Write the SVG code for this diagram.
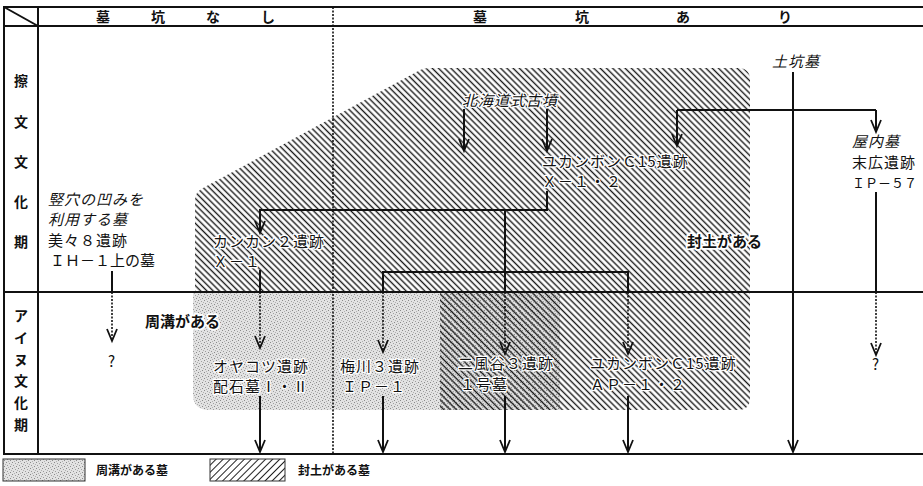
<svg xmlns="http://www.w3.org/2000/svg" width="923" height="486" viewBox="0 0 923 486">
<style>
.t{font-family:"Noto Sans CJK JP","Noto Sans",sans-serif;font-size:15px;letter-spacing:1px;fill:#111}
.h{font-family:"Noto Sans CJK JP","Noto Sans",sans-serif;font-size:14px;font-weight:bold;fill:#111}
.i{font-style:italic}
.halo{stroke:#fff;stroke-width:2.5px;paint-order:stroke;stroke-linejoin:round}
.bh{font-weight:bold;stroke:#fff;stroke-width:3.5px;paint-order:stroke;stroke-linejoin:round;letter-spacing:0}
.grid{stroke:#111;stroke-width:2;fill:none}
.dv{stroke:#111;stroke-width:1.6;stroke-dasharray:2 1.5;fill:none}
.c{stroke:#111;stroke-width:2;fill:none}
.d{stroke:#111;stroke-width:1.6;fill:none;stroke-dasharray:2 1.5}
.ah{stroke:#111;stroke-width:1.8;fill:none;stroke-dasharray:none}
</style>
<defs>
<pattern id="hatch" patternUnits="userSpaceOnUse" width="4.4" height="4.4" patternTransform="rotate(45)">
<line x1="0" y1="2.2" x2="4.4" y2="2.2" stroke="#1a1a1a" stroke-width="1.4"/>
</pattern>
<pattern id="hatch2" patternUnits="userSpaceOnUse" width="5" height="5" patternTransform="rotate(-45)">
<line x1="0" y1="2.5" x2="5" y2="2.5" stroke="#222" stroke-width="1"/>
</pattern>
<pattern id="stip" patternUnits="userSpaceOnUse" width="6" height="6">
<rect width="6" height="6" fill="#e2e2e2"/>
<rect x="0" y="0" width="1" height="1" fill="#8a8a8a"/>
<rect x="3" y="1" width="1" height="1" fill="#a0a0a0"/>
<rect x="1" y="3" width="1" height="1" fill="#9a9a9a"/>
<rect x="4" y="4" width="1" height="1" fill="#8a8a8a"/>
<rect x="5" y="2" width="1" height="1" fill="#b0b0b0"/>
<rect x="2" y="5" width="1" height="1" fill="#b0b0b0"/>
</pattern>
<marker id="arr" viewBox="-13 -7 15 14" refX="0" refY="0" markerWidth="15" markerHeight="14" markerUnits="userSpaceOnUse" orient="auto" overflow="visible">
<path class="ah" d="M-12,-5 L0,0 L-12,5"/>
</marker>
</defs>

<g id="regions">
<path id="stipple-region" d="M193,292 L560,292 L560,410 L209,410 Q193,410 193,394 Z" fill="url(#stip)"/>
<path id="hatch-region" d="M195,200 Q195,192 203,188 L420,70 Q424,68 430,68 L738,68 Q750,68 750,80 L750,398 Q750,410 738,410 L440,410 L440,292 L195,292 Z" fill="url(#hatch)"/>
</g>

<g id="table">
<line class="grid" x1="3" y1="7" x2="923" y2="7"/>
<line class="grid" x1="3" y1="26" x2="923" y2="26"/>
<line class="grid" x1="3" y1="292" x2="923" y2="292"/>
<line class="grid" x1="3" y1="454" x2="923" y2="454"/>
<line class="grid" x1="4" y1="7" x2="4" y2="454"/>
<line class="grid" x1="38" y1="7" x2="38" y2="454"/>
<line class="grid" x1="4" y1="7" x2="38" y2="26" stroke-width="1.5"/>
<line class="dv" x1="333" y1="7" x2="333" y2="454"/>
<g id="header">
<text class="h" x="103" y="22" text-anchor="middle">墓</text>
<text class="h" x="158" y="22" text-anchor="middle">坑</text>
<text class="h" x="213" y="22" text-anchor="middle">な</text>
<text class="h" x="268" y="22" text-anchor="middle">し</text>
<text class="h" x="480" y="22" text-anchor="middle">墓</text>
<text class="h" x="582" y="22" text-anchor="middle">坑</text>
<text class="h" x="683" y="22" text-anchor="middle">あ</text>
<text class="h" x="785" y="22" text-anchor="middle">り</text>
</g>
<g id="period-satsumon">
<text class="h" x="21" y="86" text-anchor="middle">擦</text>
<text class="h" x="21" y="127" text-anchor="middle">文</text>
<text class="h" x="21" y="167" text-anchor="middle">文</text>
<text class="h" x="21" y="207" text-anchor="middle">化</text>
<text class="h" x="21" y="247" text-anchor="middle">期</text>
</g>
<g id="period-ainu">
<text class="h" x="21" y="321" text-anchor="middle">ア</text>
<text class="h" x="21" y="343" text-anchor="middle">イ</text>
<text class="h" x="21" y="365" text-anchor="middle">ヌ</text>
<text class="h" x="21" y="386" text-anchor="middle">文</text>
<text class="h" x="21" y="408" text-anchor="middle">化</text>
<text class="h" x="21" y="430" text-anchor="middle">期</text>
</g>
</g>

<g id="connectors">
<path class="c" d="M793,72 V452" marker-end="url(#arr)"/>
<path class="c" d="M677,110 H876"/>
<path class="c" d="M677,110 V146" marker-end="url(#arr)"/>
<path class="c" d="M876,110 V132" marker-end="url(#arr)"/>
<path class="c" d="M464,109 V151" marker-end="url(#arr)"/>
<path class="c" d="M547,109 V151" marker-end="url(#arr)"/>
<path class="c" d="M547,191 V210 H260 V233" marker-end="url(#arr)"/>
<path class="c" d="M505,210 V292"/>
<path class="c" d="M383,292 V272 H628 V292"/>
<path class="d" d="M383,292 V352" marker-end="url(#arr)"/>
<path class="d" d="M505,292 V354" marker-end="url(#arr)"/>
<path class="d" d="M628,292 V354" marker-end="url(#arr)"/>
<path class="c" d="M260,270 V292"/>
<path class="d" d="M260,292 V348" marker-end="url(#arr)"/>
<path class="c" d="M112,271 V292"/>
<path class="d" d="M112,292 V341" marker-end="url(#arr)"/>
<path class="c" d="M876,192 V292"/>
<path class="d" d="M876,292 V355" marker-end="url(#arr)"/>
<path class="c" d="M260,396 V452" marker-end="url(#arr)"/>
<path class="c" d="M383,396 V452" marker-end="url(#arr)"/>
<path class="c" d="M505,396 V452" marker-end="url(#arr)"/>
<path class="c" d="M628,396 V452" marker-end="url(#arr)"/>
</g>

<g id="n-dokobo"><text class="t i" x="772" y="67">土坑墓</text></g>
<g id="n-hokkaido"><text class="t i halo" x="462" y="106">北海道式古墳</text></g>
<g id="n-yukanbo-x"><text class="t halo" x="542" y="167">ユカンボンＣ15遺跡</text><text class="t halo" x="542" y="187">Ｘ－１・２</text></g>
<g id="n-okunai"><text class="t i" x="852" y="147">屋内墓</text><text class="t" x="852" y="168">末広遺跡</text><text class="t" x="852" y="188" style="font-size:13px;letter-spacing:0">ＩＰ－５７</text></g>
<g id="n-bibi"><text class="t i" x="48" y="205">竪穴の凹みを</text><text class="t i" x="48" y="225">利用する墓</text><text class="t" x="48" y="246">美々８遺跡</text><text class="t" x="50" y="266" style="letter-spacing:0">ＩＨ－１上の墓</text></g>
<g id="n-kankan"><text class="t halo" x="213" y="247">カンカン２遺跡</text><text class="t halo" x="213" y="267">Ｘ－１</text></g>
<g id="l-fudo"><text class="t bh" x="687" y="247">封土がある</text></g>
<g id="l-shuko"><text class="t bh" x="145" y="327">周溝がある</text></g>
<g id="n-q1"><text class="t" x="112" y="367" text-anchor="middle">?</text></g>
<g id="n-q2"><text class="t" x="876" y="370" text-anchor="middle">?</text></g>
<g id="n-oyakotsu"><text class="t halo" x="213" y="372">オヤコツ遺跡</text><text class="t halo" x="213" y="392">配石墓Ⅰ・Ⅱ</text></g>
<g id="n-umekawa"><text class="t halo" x="340" y="372">梅川３遺跡</text><text class="t halo" x="342" y="392">ＩＰ－１</text></g>
<g id="n-nibutani"><text class="t halo" x="458" y="369">二風谷３遺跡</text><text class="t halo" x="460" y="390">１号墓</text></g>
<g id="n-yukanbo-ap"><text class="t halo" x="590" y="369">ユカンボンＣ15遺跡</text><text class="t halo" x="590" y="390">ＡＰ－１・２</text></g>

<g id="legend">
<rect x="3" y="459" width="82" height="22" fill="url(#stip)" stroke="#333" stroke-width="1"/>
<text class="h" x="96" y="475" style="font-size:12px">周溝がある墓</text>
<rect x="210" y="459" width="75" height="22" fill="url(#hatch2)" stroke="#333" stroke-width="1"/>
<text class="h" x="298" y="475" style="font-size:12px">封土がある墓</text>
</g>
</svg>
